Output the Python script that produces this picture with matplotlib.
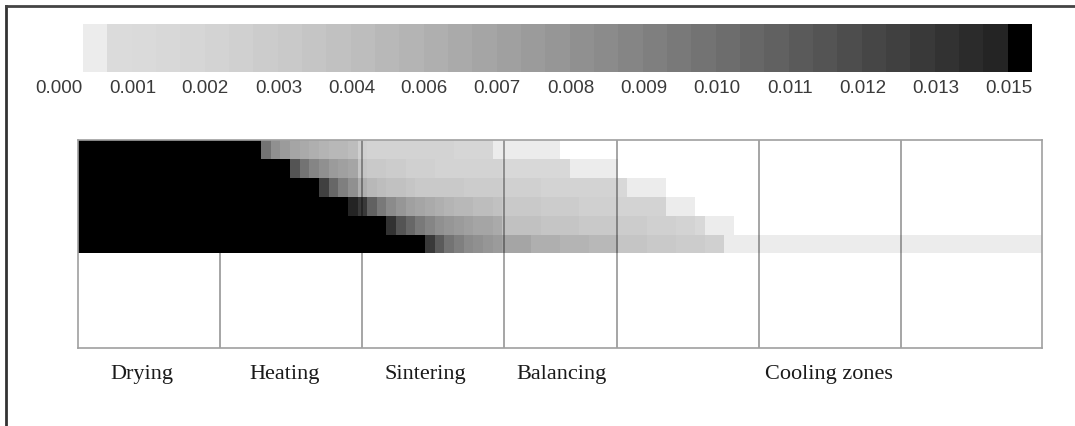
"""Mapa de concentraciones a lo largo del horno (zonas de secado, calentamiento, sinterizado...)"""
import numpy as np
import matplotlib
matplotlib.use("Agg")
import matplotlib.pyplot as plt
from matplotlib.colors import ListedColormap, BoundaryNorm
from matplotlib.cm import ScalarMappable
from matplotlib.lines import Line2D

# --------------------- DATOS --------------------- #
B = 0.0155          # celdas saturadas (negro)
N = np.nan          # sin dato (blanco)

# Valores por capa (fila superior -> inferior), 100 columnas a lo largo del horno
row_0 = ([B] * 19 +
         [0.0102, 0.0082, 0.0074, 0.0066, 0.0062, 0.0058, 0.0054, 0.0050, 0.0050, 0.0046,
          0.0026, 0.0022, 0.0022, 0.0022, 0.0022, 0.0020, 0.0020, 0.0020, 0.0020, 0.0020,
          0.0018, 0.0018, 0.0018, 0.0018] +
         [0.0002] * 7 + [N] * 50)
row_1 = ([B] * 22 +
         [0.0122, 0.0102, 0.0090, 0.0082, 0.0074, 0.0070, 0.0066, 0.0038, 0.0034, 0.0034,
          0.0030, 0.0030, 0.0026, 0.0026, 0.0026, 0.0022, 0.0022, 0.0022, 0.0022, 0.0020,
          0.0020, 0.0020] +
         [0.0014] * 7 + [0.0002] * 5 + [N] * 44)
row_2 = ([B] * 25 +
         [0.0134, 0.0110, 0.0094, 0.0082, 0.0058, 0.0050, 0.0046, 0.0042, 0.0042, 0.0038,
          0.0034, 0.0034, 0.0034, 0.0034, 0.0034, 0.0030, 0.0030, 0.0030, 0.0030,
          0.0026, 0.0026, 0.0026, 0.0026] +
         [0.0020] * 8 + [0.0014] + [0.0002] * 4 + [N] * 39)
row_3 = ([B] * 28 +
         [0.0150, 0.0138, 0.0114, 0.0098, 0.0086, 0.0078, 0.0070, 0.0066, 0.0062, 0.0058,
          0.0054, 0.0050, 0.0050, 0.0046, 0.0046, 0.0042] +
         [0.0034] * 4 + [0.0030] * 4 + [0.0026] * 4 + [0.0022] * 3 + [0.0020] * 2 +
         [0.0002] * 3 + [N] * 36)
row_4 = ([B] * 32 +
         [0.0142, 0.0122, 0.0110, 0.0098, 0.0090, 0.0082, 0.0078, 0.0074, 0.0070, 0.0066,
          0.0066, 0.0062] +
         [0.0042] * 4 + [0.0038] * 4 + [0.0034] * 4 + [0.0030] * 3 + [0.0026] * 3 +
         [0.0020] * 2 + [0.0014] + [0.0002] * 3 + [N] * 32)
row_5 = ([B] * 36 +
         [0.0138, 0.0118, 0.0102, 0.0094, 0.0086, 0.0082, 0.0078, 0.0074] +
         [0.0066] * 3 + [0.0058] * 3 + [0.0054] * 3 + [0.0050] * 3 + [0.0038] * 3 +
         [0.0034] * 3 + [0.0030] * 3 + [0.0026] * 2 + [0.0002] * 33)

# Límites de zonas (en columnas) y nombres
zone_edges = [0, 14.7, 29.5, 44.2, 55.9, 70.6, 85.4, 100]
zone_names = ["Drying", "Heating", "Sintering", "Balancing", "Cooling zones"]
name_pos = [6.6, 21.4, 36.0, 50.2, 77.9]

# Escala de colores
n_bins = 39
vmax = 0.0156
cbar_labels = ["0.000", "0.001", "0.002", "0.003", "0.004", "0.006", "0.007",
               "0.008", "0.009", "0.010", "0.011", "0.012", "0.013", "0.015"]

# --------------------- COLORMAP --------------------- #
t = np.linspace(0, 1, n_bins - 2)
grays = [0.925] + list(0.86 - 0.72 * t ** 1.4) + [0.0]
cmap = ListedColormap([(g, g, g) for g in grays])
cmap.set_bad("white")
bounds = np.linspace(0, vmax, n_bins + 1)
norm = BoundaryNorm(bounds, n_bins)

# --------------------- FIGURA --------------------- #
W, H = 1075, 426
fig = plt.figure(figsize=(W / 100, H / 100), dpi=100)

ax = fig.add_axes([78 / W, 1 - 348 / H, 964 / W, 208 / H])
data = np.ma.masked_invalid(np.array([row_0, row_1, row_2, row_3, row_4, row_5]))
ax.pcolormesh(np.arange(data.shape[1] + 1), np.arange(data.shape[0] + 1), data,
              cmap=cmap, norm=norm)
ax.set_xlim(0, 100)
ax.set_ylim(11, 0)
ax.set_xticks([])
ax.set_yticks([])
for s in ax.spines.values():
    s.set_color("#a0a0a0")
    s.set_linewidth(1.2)
# líneas de zona semitransparentes: no se ven sobre el negro
ax.vlines(zone_edges[1:-1], 0, 11, colors="black", alpha=0.45, linewidth=1.1)

for name, xp in zip(zone_names, name_pos):
    ax.text(xp, 12.4, name, ha="center", va="center", fontsize=16,
            family="Liberation Serif", color="#1a1a1a", clip_on=False)

# Barra de colores
cax = fig.add_axes([83 / W, 1 - 72 / H, 949 / W, 48 / H])
cb = fig.colorbar(ScalarMappable(norm=norm, cmap=cmap), cax=cax, orientation="horizontal")
cb.outline.set_visible(False)
cb.set_ticks(bounds[::3])
cb.set_ticklabels(cbar_labels)
cax.minorticks_off()
cax.tick_params(length=0, pad=6, labelsize=13.5, labelcolor="#3a3a3a")
for lbl in cax.get_xticklabels():
    lbl.set_horizontalalignment("right")
    lbl.set_family("Liberation Sans")

# Marco exterior (izquierda y arriba)
fig.add_artist(Line2D([6 / W, 6 / W], [0, 1 - 6 / H], transform=fig.transFigure,
                      color="#333333", linewidth=2))
fig.add_artist(Line2D([6 / W, 1], [1 - 6 / H, 1 - 6 / H], transform=fig.transFigure,
                      color="#444444", linewidth=2))

fig.savefig("out.png", dpi=100)
